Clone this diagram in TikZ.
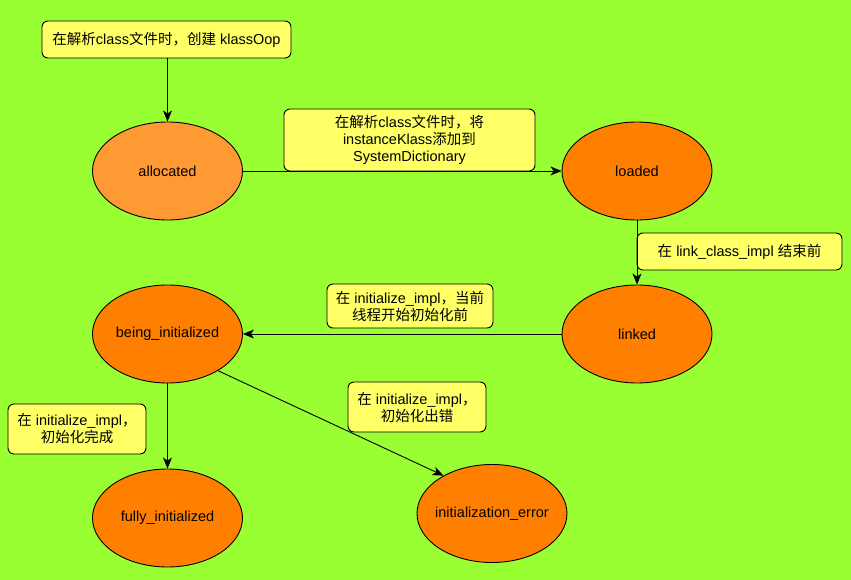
\documentclass[tikz,border=0pt]{standalone}
\usepackage{fontspec}
\setmainfont{Liberation Sans}
\newfontfamily\cjk{Noto Sans CJK SC}
\newcommand{\zh}[1]{{\cjk #1}}
\usetikzlibrary{arrows.meta,shapes.geometric}
\definecolor{bggreen}{HTML}{99FF33}
\definecolor{statelight}{HTML}{FF9933}
\definecolor{statedark}{HTML}{FF8000}
\definecolor{notefill}{HTML}{FFFF66}
\tikzset{
  % fixed-size ellipse: negative x padding keeps long labels from widening it
  state/.style={ellipse, draw=black, line width=0.9pt, fill=statedark,
    minimum width=150pt, minimum height=98pt, inner xsep=-20pt, inner ysep=0pt,
    font=\fontsize{14.5}{17}\selectfont},
  note/.style={rectangle, rounded corners=6pt, draw=black, line width=0.9pt,
    fill=notefill, align=center, inner sep=0pt,
    font=\fontsize{14.5}{17}\selectfont},
  flow/.style={draw=black, line width=0.9pt,
    -{Stealth[length=11pt,width=9pt,inset=3pt]}}
}
\begin{document}
\begin{tikzpicture}[x=1pt,y=-1pt]
  \fill[bggreen] (0,0) rectangle (851,580);
  \useasboundingbox (0,0) rectangle (851,580);

  % states
  \node[state, fill=statelight] (alloc) at (167.5,171) {allocated};
  \node[state] (loaded) at (637,171) {loaded};
  \node[state] (binit) at (167.5,334) {being\_initialized};
  \node[state] (linked) at (637,334) {linked};
  \node[state] (finit) at (167.5,518) {fully\_initialized};
  \node[state] (ierr) at (492,513.5) {initialization\_error};

  % notes
  \node[note, minimum width=249pt, minimum height=37pt] (n1) at (166.5,39.5)
    {\zh{在解析}class\zh{文件时，创建} klassOop};
  \node[note, minimum width=251pt, minimum height=62pt] (n2) at (409.5,140)
    {\zh{在解析}class\zh{文件时，将}\\instanceKlass\zh{添加到}\\SystemDictionary};
  \node[note, minimum width=205pt, minimum height=37pt] (n3) at (739.5,251.5)
    {\zh{在} link\_class\_impl \zh{结束前}};
  \node[note, minimum width=166pt, minimum height=44pt] (n4) at (410,306)
    {\zh{在} initialize\_impl\zh{，当前}\\\zh{线程开始初始化前}};
  \node[note, minimum width=138pt, minimum height=50pt] (n5) at (77,429)
    {\zh{在} initialize\_impl\zh{，}\\\zh{初始化完成}};
  \node[note, minimum width=138pt, minimum height=50pt] (n6) at (417,407)
    {\zh{在} initialize\_impl\zh{，}\\\zh{初始化出错}};

  % transitions
  \draw[flow] (n1.south -| alloc.north) -- (alloc.north);
  \draw[flow] (alloc.east) -- (loaded.west);
  \draw[flow] (loaded.south) -- (linked.north);
  \draw[flow] (linked.west) -- (binit.east);
  \draw[flow] (binit.south) -- (finit.north);
  \draw[flow] (binit.-36) -- (ierr.142);
\end{tikzpicture}
\end{document}
